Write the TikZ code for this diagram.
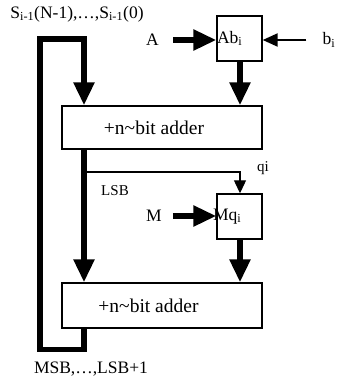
\documentclass[tikz,border=0pt]{standalone}
\usepackage{fontspec}
\setmainfont{Liberation Serif}
\usetikzlibrary{arrows.meta, positioning}

\tikzset{
    unit/.style={draw, line width=1.4pt, inner sep=0pt},
    bus/.style={line width=5.5pt, line join=miter, -{Triangle[width=20pt, length=23pt]}},
    wire/.style={line width=2.2pt, -{Triangle[width=13pt, length=15pt]}},
    bitline/.style={line width=1.2pt, -{Triangle[width=12pt, length=13pt]}},
    lbl/.style={font=\fontsize{17.5}{17.5}\selectfont, inner sep=0pt},
    sumtext/.style={font=\fontsize{19.5}{19.5}\selectfont},
    small/.style={font=\fontsize{15}{15}\selectfont, inner sep=0pt}
}

\begin{document}
\begin{tikzpicture}[x=1pt, y=-1pt]
                        \useasboundingbox (0,0) rectangle (337,381);
                        % adders and gates
                        \node[unit, minimum width=200pt, minimum height=43pt, sumtext] (add1) at (162,127.5) {+n\textasciitilde bit adder\hspace*{16pt}};
                        \node[unit, minimum width=200pt, minimum height=45pt, sumtext] (add2) at (162,305.5) {+n\textasciitilde bit adder\hspace*{27pt}};
                        \node[unit, minimum size=45pt, text width=45pt, align=left, lbl] (ab) at (239.5,38.5) {Ab\textsubscript{i}};
                        \node[unit, minimum size=45pt, text width=45pt, align=left, lbl] (mq) at (239.5,216.5) {\hspace*{-4pt}Mq\textsubscript{i}};
                        % labels
                        \node[lbl] (s) at (77,14) {S\textsubscript{i-1}(N-1),\ldots,S\textsubscript{i-1}(0)};
                        \node[lbl] (msb) at (91,369) {MSB,\ldots,LSB+1};
                        \node[lbl] (a) at (152.5,40) {A};
                        \node[lbl] (b) at (329,40) {b\textsubscript{i}};
                        \node[lbl] (m) at (154,216) {M};
                        \node[small] (lsb) at (115,191) {LSB};
                        \node[small] (q) at (263,168) {qi};
                        % corners of the feedback loop
                        \coordinate (lo) at (40,349.5);
                        \coordinate (hi) at (40,39);
                        \coordinate (colL) at (84,0);
                        \coordinate (colR) at (240,0);
                        \coordinate (tap) at (84,172);
                        % connectors
                        \draw[bus] (add2.south -| colL) -- (lo -| colL) -- (lo) -- (hi) -- (hi -| colL) -- (add1.north -| colL);
                        \draw[bus] (add1.south -| colL) -- (add2.north -| colL);
                        \draw[bus] (ab.south -| colR) -- (add1.north -| colR);
                        \draw[bus] (mq.south -| colR) -- (add2.north -| colR);
                        \draw[bus] ([xshift=14pt]a.east) -- (a -| ab.west);
                        \draw[bus] ([xshift=11pt]m.east) -- (m -| mq.west);
                        \draw[wire] ([xshift=-16pt]b.west) -- (b -| ab.east);
                        \draw[bitline] (tap) -| (mq.north -| colR);
                    \end{tikzpicture}
\end{document}
